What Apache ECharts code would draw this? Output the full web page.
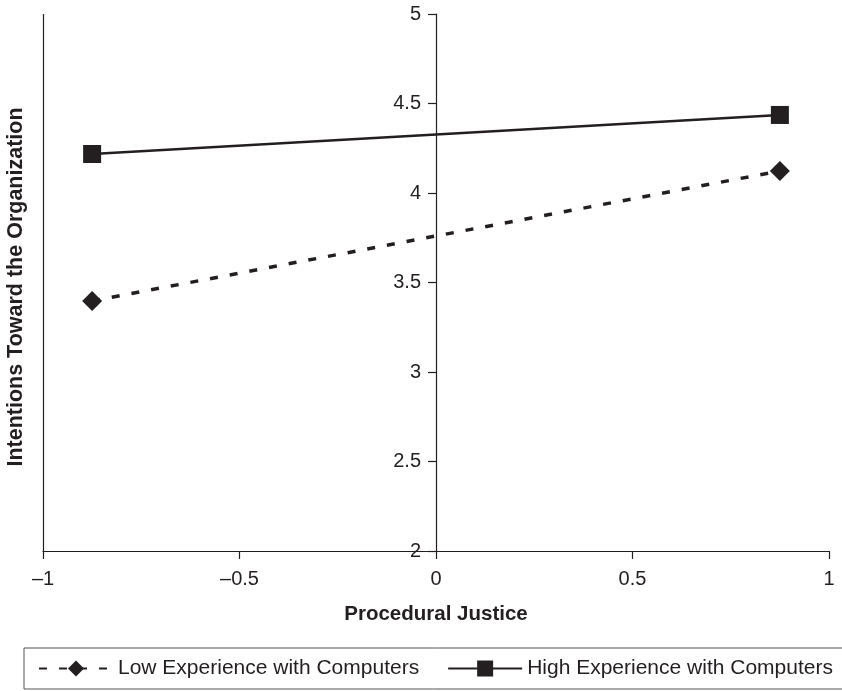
<!DOCTYPE html>
<html>
<head>
<meta charset="utf-8">
<script src="https://cdn.jsdelivr.net/npm/echarts@6/dist/echarts.min.js"></script>
<style>
  html, body { margin: 0; padding: 0; background: #fff; }
  #chart { width: 842px; height: 691px; }
</style>
</head>
<body>
<div id="chart"></div>
<script>
// values
const seriesNames = ['Low Experience with Computers', 'High Experience with Computers']
const justiceLevels = [-0.875, 0.875]
const lowExperience = [3.397, 4.123]
const highExperience = [4.218, 4.436]

const xTicks = { min: -1, max: 1, interval: 0.5 }
const yTicks = { min: 2, max: 5, interval: 0.5 }

const ink = '#231f20'
const font = '"Liberation Sans", Arial, Helvetica, sans-serif'

const gridLeft = 43
const gridRight = 13
const plotWidth = 842 - gridLeft - gridRight

const chart = echarts.init(document.getElementById('chart'), null, { renderer: 'canvas' })

const pairs = (xs, ys) => xs.map((x, i) => [x, ys[i]])

chart.setOption({
  animation: false,
  backgroundColor: '#fff',
  textStyle: { fontFamily: font, color: ink },
  grid: { left: gridLeft, right: gridRight, top: 14, bottom: 140, containLabel: false },
  legend: {
    data: seriesNames,
    left: 24,
    top: 648,
    width: 830,
    padding: [10, 14, 10, 14],
    borderColor: '#555',
    borderWidth: 1,
    itemWidth: 74,
    itemHeight: 20,
    itemGap: 28,
    textStyle: { fontFamily: font, fontSize: 21, color: ink },
  },
  graphic: [
    {
      // y-axis title, kept at the left edge since the axis itself sits at x = 0
      type: 'text',
      x: 16,
      y: 287,
      rotation: Math.PI / 2,
      style: {
        text: 'Intentions Toward the Organization',
        font: 'bold 21.5px ' + font,
        fill: ink,
        textAlign: 'center',
        textVerticalAlign: 'middle',
      },
    },
  ],
  xAxis: {
    type: 'value',
    min: xTicks.min,
    max: xTicks.max,
    interval: xTicks.interval,
    name: 'Procedural Justice',
    nameLocation: 'middle',
    nameGap: 53,
    nameTextStyle: { fontFamily: font, fontSize: 20.5, fontWeight: 'bold', color: ink },
    axisLine: { onZero: false, lineStyle: { color: ink, width: 1.2 } },
    axisTick: { length: 8, lineStyle: { color: ink, width: 1.2 } },
    axisLabel: {
      margin: 18,
      fontSize: 20,
      color: ink,
      formatter: (v) => String(v).replace('-', '\u2013'),
    },
    splitLine: { show: false },
  },
  yAxis: {
    type: 'value',
    position: 'left',
    // sit the axis at x = 0 (middle of the plot)
    offset: -plotWidth / 2,
    min: yTicks.min,
    max: yTicks.max,
    interval: yTicks.interval,
    axisLine: { show: true, onZero: false, lineStyle: { color: ink, width: 1.2 } },
    axisTick: { show: true, length: 8, lineStyle: { color: ink, width: 1.2 } },
    axisLabel: { margin: 15, fontSize: 20, color: ink },
    splitLine: { show: false },
  },
  series: [
    {
      name: seriesNames[0],
      type: 'line',
      data: pairs(justiceLevels, lowExperience),
      symbol: 'diamond',
      symbolSize: 20,
      itemStyle: { color: ink },
      lineStyle: { color: ink, width: 3.5, type: [8, 12] },
      // left frame line at x = -1
      markLine: {
        silent: true,
        symbol: 'none',
        label: { show: false },
        lineStyle: { color: ink, width: 1.2, type: 'solid' },
        data: [{ xAxis: -1 }],
      },
    },
    {
      name: seriesNames[1],
      type: 'line',
      data: pairs(justiceLevels, highExperience),
      symbol: 'rect',
      symbolSize: 18,
      itemStyle: { color: ink },
      lineStyle: { color: ink, width: 2.5, type: 'solid' },
    },
  ],
})
</script>
</body>
</html>
